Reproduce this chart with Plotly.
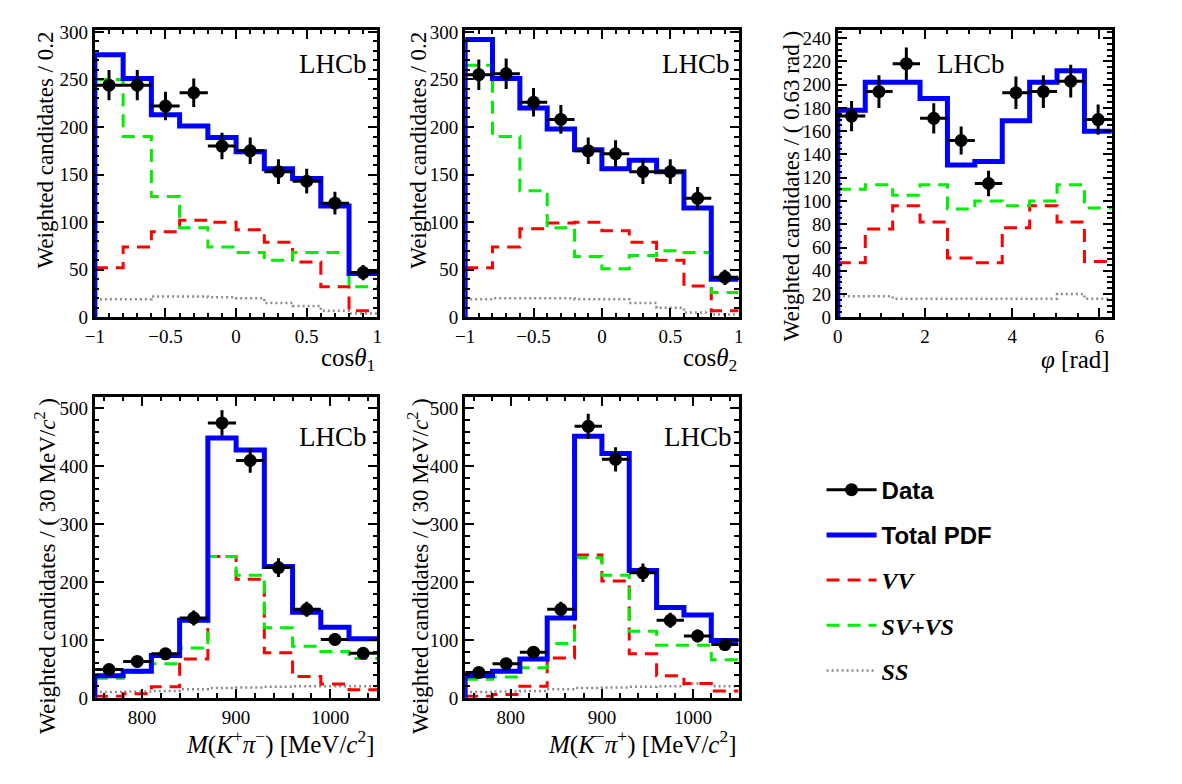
import plotly.graph_objects as go
import numpy as np

W, H = 1182, 784

# ---------------- data ----------------
cos_edges = [-1.0, -0.8, -0.6, -0.4, -0.2, 0.0, 0.2, 0.4, 0.6, 0.8, 1.0]

cos1_data = [244, 244, 222, 236, 180, 175, 153, 143, 120, 47]
cos1_err = [16, 16, 15, 15, 14, 14, 13, 13, 12, 8]
cos1_total = [276, 251, 213, 201, 189, 174, 156, 146, 117, 46]
cos1_vv = [52, 74, 90, 102, 100, 92, 79, 58, 32, 7]
cos1_svvs = [250, 190, 127, 94, 74, 68, 60, 68, 68, 32]
cos1_ss = [19, 19, 22, 22, 21, 20, 15, 12, 7, 4]

cos2_data = [255, 256, 226, 208, 175, 172, 153, 153, 125, 42]
cos2_err = [16, 16, 15, 15, 14, 14, 13, 13, 12, 8]
cos2_total = [292, 251, 220, 198, 176, 156, 165, 153, 115, 40]
cos2_vv = [52, 74, 93, 99, 100, 91, 79, 60, 33, 7]
cos2_svvs = [265, 190, 133, 94, 64, 51, 65, 70, 68, 26]
cos2_ss = [19, 20, 20, 20, 19, 19, 15, 10, 5, 3]

phi_edges = list(np.linspace(0.0, 2 * np.pi, 11))
phi_data = [173, 194, 218, 171, 152, 115, 193, 194, 203, 170]
phi_err = [13, 14, 14, 13, 12, 11, 14, 14, 14, 13]
phi_total = [178, 202, 202, 188, 131, 134, 169, 202, 212, 160]
phi_vv = [47, 76, 96, 82, 51, 47, 77, 96, 82, 48]
phi_svvs = [110, 114, 105, 114, 93, 100, 96, 100, 114, 94]
phi_ss = [18, 18, 16, 16, 16, 16, 16, 16, 20, 16]

mkp_edges = [750, 780, 810, 840, 870, 900, 930, 960, 990, 1020, 1050]
mkp_data = [49, 63, 76, 138, 475, 410, 225, 153, 101, 77]
mkp_err = [8, 9, 10, 13, 22, 21, 16, 13, 11, 10]
mkp_total = [38, 46, 73, 134, 449, 428, 227, 148, 122, 102]
mkp_vv = [3, 7, 19, 67, 244, 205, 78, 37, 24, 14]
mkp_svvs = [34, 44, 59, 86, 244, 212, 121, 89, 80, 68]
mkp_ss = [10, 11, 12, 15, 17, 18, 19, 20, 20, 20]

mpk_data = [44, 59, 79, 153, 469, 412, 216, 134, 107, 92]
mpk_err = [8, 9, 10, 13, 22, 21, 16, 13, 11, 10]
mpk_total = [38, 46, 67, 138, 452, 422, 220, 156, 143, 99]
mpk_vv = [3, 6, 20, 69, 247, 202, 76, 38, 25, 12]
mpk_svvs = [32, 36, 52, 94, 242, 212, 115, 91, 91, 66]
mpk_ss = [10, 11, 12, 15, 17, 18, 19, 20, 25, 20]

SERIF = "Liberation Serif"
SANS = "Liberation Sans"

C_BLUE = "#0000ff"
C_RED = "#ff0000"
C_GREEN = "#00ee00"
C_GREY = "#8c8c8c"


def px(x):
    return x / W


def py(y):
    return 1 - y / H


fig = go.Figure()

# legend-only entry for data (first so it leads the legend)
fig.add_trace(go.Scatter(x=[None], y=[None], mode="lines+markers",
                         line=dict(color="black", width=3),
                         marker=dict(color="black", size=13),
                         name=f"<span style='font-family:{SANS}'><b>Data</b></span>",
                         legendrank=1, legendgroup="a_data", showlegend=True))

panels = [
    dict(edges=cos_edges, data=cos1_data, err=cos1_err, total=cos1_total, vv=cos1_vv,
         svvs=cos1_svvs, ss=cos1_ss),
    dict(edges=cos_edges, data=cos2_data, err=cos2_err, total=cos2_total, vv=cos2_vv,
         svvs=cos2_svvs, ss=cos2_ss),
    dict(edges=phi_edges, data=phi_data, err=phi_err, total=phi_total, vv=phi_vv,
         svvs=phi_svvs, ss=phi_ss),
    dict(edges=mkp_edges, data=mkp_data, err=mkp_err, total=mkp_total, vv=mkp_vv,
         svvs=mkp_svvs, ss=mkp_ss),
    dict(edges=mkp_edges, data=mpk_data, err=mpk_err, total=mpk_total, vv=mpk_vv,
         svvs=mpk_svvs, ss=mpk_ss),
]

for i, p in enumerate(panels):
    n = i + 1
    xa = "x" if n == 1 else f"x{n}"
    ya = "y" if n == 1 else f"y{n}"
    e = p["edges"]
    centers = [(e[k] + e[k + 1]) / 2 for k in range(len(e) - 1)]
    halfw = [(e[k + 1] - e[k]) / 2 for k in range(len(e) - 1)]
    first = (n == 1)

    def step(vals):
        return list(e), list(vals) + [vals[-1]]

    sx, sy = step(p["ss"])
    fig.add_trace(go.Scatter(x=sx, y=sy, mode="lines", line_shape="hv",
                             line=dict(color=C_GREY, width=2.5, dash="2px,3px"),
                             name="<i><b>SS</b></i>", legendrank=5, showlegend=first,
                             legendgroup="e_ss", xaxis=xa, yaxis=ya))
    vx, vy = step(p["vv"])
    fig.add_trace(go.Scatter(x=vx, y=vy, mode="lines", line_shape="hv",
                             line=dict(color=C_RED, width=3, dash="13px,8px"),
                             name="<i><b>VV</b></i>", legendrank=3, showlegend=first,
                             legendgroup="c_vv", xaxis=xa, yaxis=ya))
    gx, gy = step(p["svvs"])
    fig.add_trace(go.Scatter(x=gx, y=gy, mode="lines", line_shape="hv",
                             line=dict(color=C_GREEN, width=3, dash="13px,8px"),
                             name="<i><b>SV+VS</b></i>", legendrank=4, showlegend=first,
                             legendgroup="d_svvs", xaxis=xa, yaxis=ya))
    tx, ty = step(p["total"])
    tx = [e[0]] + tx
    ty = [0] + ty
    fig.add_trace(go.Scatter(x=tx, y=ty, mode="lines", line_shape="hv",
                             line=dict(color=C_BLUE, width=5),
                             name=f"<span style='font-family:{SANS}'><b>Total PDF</b></span>",
                             legendrank=2, showlegend=first,
                             legendgroup="b_tot", xaxis=xa, yaxis=ya))
    fig.add_trace(go.Scatter(x=centers, y=p["data"], mode="markers",
                             marker=dict(color="black", size=13),
                             error_y=dict(type="data", array=p["err"], color="black",
                                          thickness=3, width=0),
                             error_x=dict(type="data", array=halfw, color="black",
                                          thickness=3, width=0),
                             showlegend=False, xaxis=xa, yaxis=ya))

# ---------------- axes ----------------
row1_y = [py(317), py(22.5)]
row2_y = [py(707), py(398.5)]
col_x = [[px(86), px(372)], [px(461), px(738)], [px(838.5), px(1116)]]

axis_common = dict(
    showline=True, linecolor="black", linewidth=3, mirror="allticks",
    ticks="inside", ticklen=9, tickwidth=2, tickcolor="black",
    showgrid=False, zeroline=False,
    tickfont=dict(family=SERIF, size=19, color="black"),
)


def minor(d):
    return dict(ticks="inside", ticklen=4.5, tickwidth=1.5, tickcolor="black",
                dtick=d, showgrid=False)


layout_axes = {}
specs = [
    (1, col_x[0], row1_y, [-1, 1], -1, 0.5, 0.1, [0, 302], 50, 10),
    (2, col_x[1], row1_y, [-1, 1], -1, 0.5, 0.1, [0, 302], 50, 10),
    (3, col_x[2], row1_y, [0, 2 * np.pi], 0, 2, 0.5, [0, 247], 20, 5),
    (4, col_x[0], row2_y, [750, 1050], 800, 100, 20, [0, 520], 100, 20),
    (5, col_x[1], row2_y, [750, 1050], 800, 100, 20, [0, 520], 100, 20),
]
for n, xd, yd, xr, xt0, xdt, xmin, yr, ydt, ymin in specs:
    xk = "xaxis" if n == 1 else f"xaxis{n}"
    yk = "yaxis" if n == 1 else f"yaxis{n}"
    ya = "y" if n == 1 else f"y{n}"
    xa = "x" if n == 1 else f"x{n}"
    layout_axes[xk] = dict(axis_common, domain=xd, range=xr, anchor=ya,
                           tick0=xt0, dtick=xdt, minor=dict(minor(xmin), tick0=xt0))
    layout_axes[yk] = dict(axis_common, domain=yd, range=yr, anchor=xa,
                           tick0=0, dtick=ydt, minor=minor(ymin))

fig.update_layout(**layout_axes)

# ---------------- annotations ----------------
ann = []
TFY = dict(family=SERIF, size=23, color="black")
TFX = dict(family=SERIF, size=25, color="black")

ytitles = [
    (36, 22, "Weighted candidates / 0.2"),
    (414, 22, "Weighted candidates / 0.2"),
    (792, 22, "Weighted candidates / ( 0.63 rad )"),
    (36, 398, "Weighted candidates / ( 30 MeV/<i>c</i><sup>2</sup> )"),
    (414, 398, "Weighted candidates / ( 30 MeV/<i>c</i><sup>2</sup> )"),
]
for x, y, t in ytitles:
    ann.append(dict(x=px(x), y=py(y), xref="paper", yref="paper", text=t,
                    textangle=-90, xanchor="center", yanchor="top",
                    showarrow=False, font=TFY))

xtitles = [
    (372, 360, "cos<i>θ</i><sub>1</sub>"),
    (738, 360, "cos<i>θ</i><sub>2</sub>"),
    (1116, 360, "<i>φ</i> [rad]"),
    (372, 753, "<i>M</i>(<i>K</i><sup>+</sup><i>π</i><sup>−</sup>) [MeV/<i>c</i><sup>2</sup>]"),
    (738, 753, "<i>M</i>(<i>K</i><sup>−</sup><i>π</i><sup>+</sup>) [MeV/<i>c</i><sup>2</sup>]"),
]
for x, y, t in xtitles:
    ann.append(dict(x=px(x), y=py(y), xref="paper", yref="paper", text=t,
                    xanchor="right", yanchor="middle", showarrow=False, font=TFX))

lhcb = [(364, 57), (731, 57), (1010, 57), (364, 440), (733, 440)]
for x, y in lhcb:
    ann.append(dict(x=px(x), y=py(y), xref="paper", yref="paper", text="LHCb",
                    xanchor="right", yanchor="middle", showarrow=False,
                    font=dict(family=SERIF, size=27, color="black")))

fig.update_layout(
    width=W, height=H,
    margin=dict(l=0, r=0, t=0, b=0),
    paper_bgcolor="white", plot_bgcolor="white",
    annotations=ann,
    showlegend=True,
    legend=dict(x=px(822), y=py(471), xanchor="left", yanchor="top",
                font=dict(family=SERIF, size=24, color="black"),
                itemwidth=50, tracegroupgap=11, bgcolor="rgba(0,0,0,0)",
                traceorder="grouped"),
)

fig.write_html("out.html")
